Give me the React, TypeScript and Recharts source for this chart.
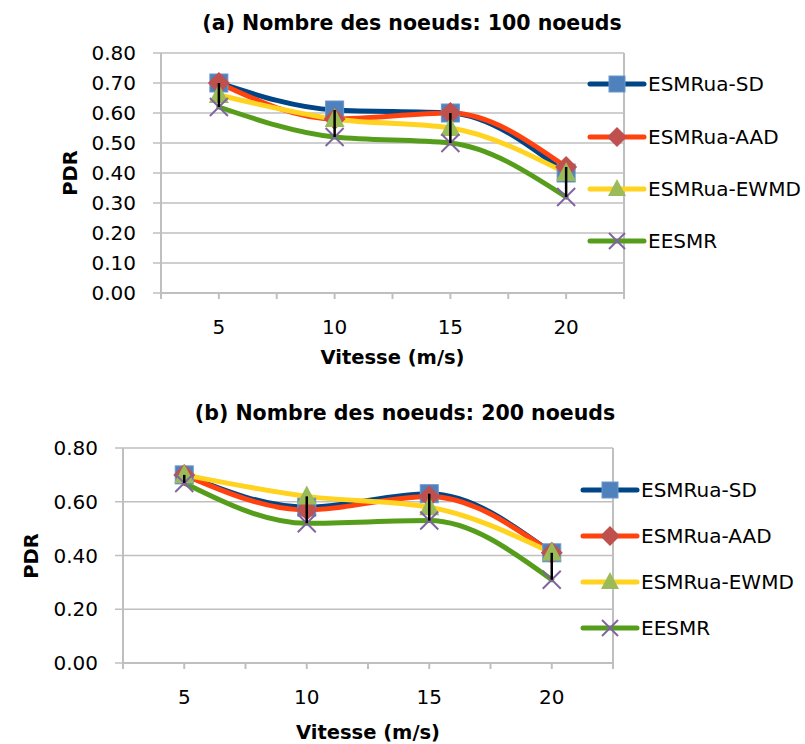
import React from 'react';
import { LineChart, Line, XAxis, YAxis, CartesianGrid, ReferenceLine } from 'recharts';

const speeds = [5, 10, 15, 20];
const seriesNames = ['ESMRua-SD', 'ESMRua-AAD', 'ESMRua-EWMD', 'EESMR'];

// (a) 100 noeuds
const sd100 = [0.7, 0.61, 0.6, 0.4];
const aad100 = [0.7, 0.58, 0.6, 0.42];
const ewmd100 = [0.66, 0.58, 0.55, 0.4];
const eesmr100 = [0.62, 0.52, 0.5, 0.32];

// (b) 200 noeuds
const sd200 = [0.7, 0.58, 0.63, 0.41];
const aad200 = [0.7, 0.57, 0.62, 0.41];
const ewmd200 = [0.7, 0.62, 0.58, 0.41];
const eesmr200 = [0.67, 0.52, 0.53, 0.31];

const yTicks100 = [0, 0.1, 0.2, 0.3, 0.4, 0.5, 0.6, 0.7, 0.8];
const yTicks200 = [0, 0.2, 0.4, 0.6, 0.8];
const xTicks = [2.5, 5, 7.5, 10, 12.5, 15, 17.5, 20, 22.5];

const FONT = "'DejaVu Sans', sans-serif";
const GRID = '#BFBFBF';
const LINE_COLORS = ['#004586', '#FF420E', '#FFD320', '#579D1C'];
const KEYS = ['sd', 'aad', 'ewmd', 'eesmr'];

function Marker({ kind, cx, cy, s = 9 }: { kind: number; cx: number; cy: number; s?: number }) {
  if (kind === 0)
    return <rect x={cx - s} y={cy - s} width={s * 2} height={s * 2} fill="#4F81BD" stroke="#6D97CB" strokeWidth={1} />;
  if (kind === 1)
    return (
      <polygon
        points={`${cx},${cy - s - 2} ${cx + s + 2},${cy} ${cx},${cy + s + 2} ${cx - s - 2},${cy}`}
        fill="#C0504D"
      />
    );
  if (kind === 2)
    return <polygon points={`${cx},${cy - s - 2} ${cx + s + 1},${cy + s - 1} ${cx - s - 1},${cy + s - 1}`} fill="#9BBB59" />;
  return (
    <g stroke="#8064A2" strokeWidth={2}>
      <line x1={cx - s} y1={cy - s} x2={cx + s} y2={cy + s} />
      <line x1={cx - s} y1={cy + s} x2={cx + s} y2={cy - s} />
    </g>
  );
}

const dotFor = (kind: number) => (p: any) => {
  if (p.cx == null || p.cy == null) return <g key={`e${kind}-${p.index}`} />;
  return (
    <g key={`m${kind}-${p.index}`}>
      <Marker kind={kind} cx={p.cx} cy={p.cy} />
    </g>
  );
};

interface PanelProps {
  title: string;
  series: number[][];
  yTicks: number[];
  top: number;
  plotLeft: number;
  plotRight: number;
  plotTop: number;
  plotBottom: number;
  titleX: number;
  titleY: number;
  pdrX: number;
  xTitleY: number;
  legendLeft: number;
  legendYs: number[];
}

function Panel(props: PanelProps) {
  const { series, yTicks, plotLeft, plotRight, plotTop, plotBottom } = props;
  const W = 805;
  const H = 372;
  const data = speeds.map((s, i) => ({
    speed: s,
    sd: series[0][i],
    aad: series[1][i],
    ewmd: series[2][i],
    eesmr: series[3][i],
  }));
  const xAxisH = 40;
  const textStyle: React.CSSProperties = { position: 'absolute', fontFamily: FONT, whiteSpace: 'nowrap', color: '#000' };

  return (
    <div style={{ position: 'absolute', left: 0, top: props.top, width: W, height: H }}>
      <LineChart
        width={W}
        height={H}
        data={data}
        margin={{ top: plotTop, right: W - plotRight, bottom: H - plotBottom - xAxisH, left: 0 }}
      >
        <CartesianGrid horizontal vertical={false} stroke={GRID} strokeWidth={1.5} />
        <XAxis
          dataKey="speed"
          type="number"
          domain={[2.5, 22.5]}
          ticks={xTicks}
          interval={0}
          height={xAxisH}
          tickFormatter={(v: number) => (v % 5 === 0 ? String(v) : '')}
          tick={{ fontFamily: FONT, fontSize: 20, fill: '#000' }}
          tickSize={6}
          tickMargin={21}
          axisLine={{ stroke: GRID, strokeWidth: 2 }}
          tickLine={{ stroke: GRID, strokeWidth: 2 }}
        />
        <YAxis
          domain={[0, 0.8]}
          ticks={yTicks}
          interval={0}
          width={plotLeft}
          tickFormatter={(v: number) => v.toFixed(2)}
          tick={{ fontFamily: FONT, fontSize: 20, fill: '#000' }}
          tickSize={8}
          tickMargin={17}
          axisLine={{ stroke: GRID, strokeWidth: 2 }}
          tickLine={{ stroke: GRID, strokeWidth: 1.5 }}
        />
        <ReferenceLine x={22.5} stroke={GRID} strokeWidth={2} />
        {KEYS.map((k, i) => (
          <Line
            key={k}
            dataKey={k}
            name={seriesNames[i]}
            type="monotone"
            stroke={LINE_COLORS[i]}
            strokeWidth={5}
            strokeLinecap="round"
            dot={dotFor(i)}
            activeDot={false}
            isAnimationActive={false}
          />
        ))}
        {/* high-low lines */}
        {speeds.map((s, i) => {
          const vals = series.map((arr) => arr[i]);
          return (
            <ReferenceLine
              key={`hl${s}`}
              segment={[
                { x: s, y: Math.max(...vals) },
                { x: s, y: Math.min(...vals) },
              ]}
              stroke="#000"
              strokeWidth={2.5}
              {...({ zIndex: 1500 } as any)}
            />
          );
        })}
      </LineChart>

      <div style={{ ...textStyle, left: props.titleX, top: props.titleY, transform: 'translate(-50%, -50%)', fontSize: 20.5, fontWeight: 'bold' }}>
        {props.title}
      </div>
      <div
        style={{
          ...textStyle,
          left: props.pdrX,
          top: (plotTop + plotBottom) / 2,
          transform: 'translate(-50%, -50%) rotate(-90deg)',
          fontSize: 19.5,
          fontWeight: 'bold',
        }}
      >
        PDR
      </div>
      <div
        style={{
          ...textStyle,
          left: (plotLeft + plotRight) / 2,
          top: props.xTitleY,
          transform: 'translate(-50%, -50%)',
          fontSize: 19.5,
          fontWeight: 'bold',
        }}
      >
        Vitesse (m/s)
      </div>

      {seriesNames.map((name, i) => (
        <div
          key={name}
          style={{ ...textStyle, left: props.legendLeft, top: props.legendYs[i], transform: 'translateY(-50%)', display: 'flex', alignItems: 'center', fontSize: 20 }}
        >
          <svg width={60} height={24} style={{ display: 'block' }}>
            <line x1={3} y1={12} x2={57} y2={12} stroke={LINE_COLORS[i]} strokeWidth={5} strokeLinecap="round" />
            <Marker kind={i} cx={30} cy={12} s={8} />
          </svg>
          <span style={{ marginLeft: 1 }}>{name}</span>
        </div>
      ))}
    </div>
  );
}

export default function App() {
  return (
    <div style={{ position: 'relative', width: 805, height: 744, background: '#fff' }}>
      <style>{'body{margin:0}'}</style>
      <Panel
        title="(a) Nombre des noeuds: 100 noeuds"
        series={[sd100, aad100, ewmd100, eesmr100]}
        yTicks={yTicks100}
        top={0}
        plotLeft={161}
        plotRight={624}
        plotTop={53}
        plotBottom={293}
        titleX={412}
        titleY={23}
        pdrX={70}
        xTitleY={357}
        legendLeft={587}
        legendYs={[84, 137, 189, 241]}
      />
      <Panel
        title="(b) Nombre des noeuds: 200 noeuds"
        series={[sd200, aad200, ewmd200, eesmr200]}
        yTicks={yTicks200}
        top={372}
        plotLeft={123}
        plotRight={613}
        plotTop={76}
        plotBottom={291}
        titleX={405}
        titleY={41}
        pdrX={31}
        xTitleY={360}
        legendLeft={580}
        legendYs={[118, 164, 210, 256]}
      />
    </div>
  );
}
